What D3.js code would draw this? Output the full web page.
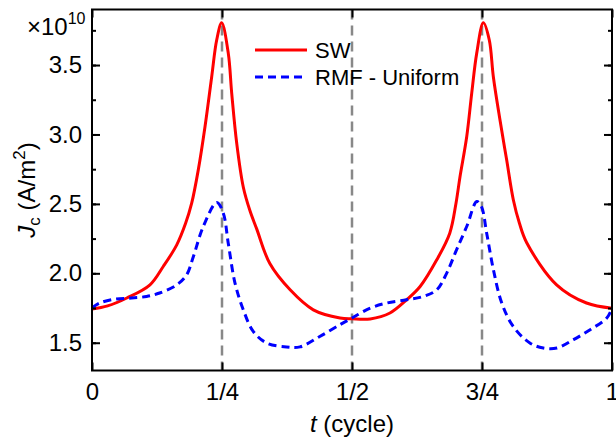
<!DOCTYPE html>
<html>
<head>
<meta charset="utf-8">
<script src="https://cdn.jsdelivr.net/npm/d3@7"></script>
<style>
  html, body { margin: 0; padding: 0; background: #fff; }
  svg { display: block; font-family: Arial, "Liberation Sans", sans-serif; }
</style>
</head>
<body>
<svg id="chart" width="616" height="445"></svg>
<script>
// Critical current density over one cycle (values in units of 1e10 A/m^2)
const swT = [0, 0.03, 0.067, 0.1115, 0.137, 0.163, 0.18, 0.1917, 0.2044, 0.2173, 0.2302, 0.2398, 0.2494,
             0.2621, 0.2687, 0.2783, 0.291, 0.3038, 0.3167, 0.342, 0.381, 0.4256, 0.477, 0.5,
             0.535, 0.573, 0.605, 0.631, 0.663, 0.688, 0.70, 0.7077, 0.7206, 0.7302, 0.7398, 0.7526,
             0.764, 0.7718, 0.7846, 0.7974, 0.8102, 0.822, 0.836, 0.8935, 0.951, 1.0];
const swJ = [1.742, 1.765, 1.822, 1.917, 2.049, 2.205, 2.36, 2.505, 2.745, 3.056, 3.416, 3.68, 3.804,
             3.584, 3.296, 2.937, 2.62, 2.45, 2.32, 2.07, 1.881, 1.737, 1.678, 1.672,
             1.671, 1.714, 1.809, 1.905, 2.097, 2.289, 2.505, 2.696, 2.984, 3.296, 3.584, 3.804,
             3.68, 3.416, 3.104, 2.817, 2.53, 2.36, 2.22, 1.917, 1.786, 1.749];

const rmfT = [0, 0.015, 0.044, 0.076, 0.105, 0.13, 0.163, 0.182, 0.195, 0.214, 0.24, 0.2525,
              0.262, 0.275, 0.291, 0.31, 0.336, 0.374, 0.4, 0.438, 0.477, 0.5, 0.535,
              0.567, 0.605, 0.637, 0.663, 0.682, 0.701, 0.7206, 0.74, 0.749, 0.759, 0.772,
              0.788, 0.81, 0.842, 0.868, 0.894, 0.926, 0.958, 0.99, 1.0];
const rmfJ = [1.752, 1.786, 1.814, 1.822, 1.833, 1.858, 1.917, 1.989, 2.121, 2.337, 2.51, 2.433,
              2.217, 1.93, 1.737, 1.582, 1.498, 1.47, 1.47, 1.545, 1.63, 1.678, 1.749,
              1.786, 1.809, 1.833, 1.881, 2.0, 2.169, 2.337, 2.517, 2.48, 2.289, 2.025,
              1.786, 1.617, 1.498, 1.462, 1.462, 1.522, 1.594, 1.678, 1.749];

const xTickVals = [0, 0.25, 0.5, 0.75, 1];
const xTickLabels = ["0", "1/4", "1/2", "3/4", "1"];
const yTickVals = [1.5, 2.0, 2.5, 3.0, 3.5];
const yMinorVals = [1.5, 1.75, 2.0, 2.25, 2.5, 2.75, 3.0, 3.25, 3.5, 3.75];
const guideVals = [0.25, 0.5, 0.75];

const seriesNames = ["SW", "RMF - Uniform"];
const seriesColors = ["#ff0000", "#0000ff"];

const svg = d3.select("#chart");
const plotLeft = 92, plotRight = 612, plotTop = 9.5, plotBottom = 370.5;

const x = d3.scaleLinear().domain([0, 1]).range([plotLeft, plotRight]);
const y = d3.scaleLinear().domain([1.3, 3.9]).range([plotBottom, plotTop]);

// vertical dashed guides at quarter cycles
svg.append("g").selectAll("line").data(guideVals).join("line")
  .attr("x1", d => x(d)).attr("x2", d => x(d))
  .attr("y1", plotTop).attr("y2", plotBottom)
  .attr("stroke", "#888").attr("stroke-width", 2.5)
  .attr("stroke-dasharray", "10,6");

const line = d3.line().x(d => x(d[0])).y(d => y(d[1])).curve(d3.curveCatmullRom.alpha(0.5));

svg.append("clipPath").attr("id", "plotclip")
  .append("rect").attr("x", plotLeft).attr("y", plotTop)
  .attr("width", plotRight - plotLeft).attr("height", plotBottom - plotTop);

const plot = svg.append("g").attr("clip-path", "url(#plotclip)");

plot.append("path")
  .datum(swT.map((t, i) => [t, swJ[i]]))
  .attr("d", line).attr("fill", "none")
  .attr("stroke", seriesColors[0]).attr("stroke-width", 3)
  .attr("stroke-linejoin", "round");

plot.append("path")
  .datum(rmfT.map((t, i) => [t, rmfJ[i]]))
  .attr("d", line).attr("fill", "none")
  .attr("stroke", seriesColors[1]).attr("stroke-width", 3)
  .attr("stroke-dasharray", "8,5");

// axes with inward ticks on all four sides
const tickFont = 24, labelFont = 24, legendFont = 22, smallFont = 16;
const axisStyle = g => {
  g.select(".domain").remove();
  g.selectAll("line").attr("stroke", "#000").attr("stroke-width", 2);
};

svg.append("g").attr("transform", `translate(0,${plotBottom})`)
  .call(d3.axisBottom(x).tickValues(xTickVals).tickSize(-8).tickPadding(12.5)
    .tickFormat((d, i) => xTickLabels[i]))
  .call(axisStyle)
  .call(g => g.selectAll("text").attr("font-size", tickFont).attr("fill", "#000")
    .attr("font-family", "Arial, 'Liberation Sans', sans-serif"));

svg.append("g").attr("transform", `translate(0,${plotTop})`)
  .call(d3.axisTop(x).tickValues(xTickVals).tickSize(-8).tickFormat(""))
  .call(axisStyle);

svg.append("g").attr("transform", `translate(${plotLeft},0)`)
  .call(d3.axisLeft(y).tickValues(yMinorVals).tickSize(-4).tickFormat(""))
  .call(axisStyle);
svg.append("g").attr("transform", `translate(${plotLeft},0)`)
  .call(d3.axisLeft(y).tickValues(yTickVals).tickSize(-8).tickPadding(10)
    .tickFormat(d3.format(".1f")))
  .call(axisStyle)
  .call(g => g.selectAll("text").attr("font-size", tickFont).attr("fill", "#000")
    .attr("font-family", "Arial, 'Liberation Sans', sans-serif"));

svg.append("g").attr("transform", `translate(${plotRight},0)`)
  .call(d3.axisRight(y).tickValues(yMinorVals).tickSize(-4).tickFormat(""))
  .call(axisStyle);
svg.append("g").attr("transform", `translate(${plotRight},0)`)
  .call(d3.axisRight(y).tickValues(yTickVals).tickSize(-8).tickFormat(""))
  .call(axisStyle);

// frame
svg.append("rect").attr("x", plotLeft).attr("y", plotTop)
  .attr("width", plotRight - plotLeft).attr("height", plotBottom - plotTop)
  .attr("fill", "none").attr("stroke", "#000").attr("stroke-width", 2);

// scale factor label
const sf = svg.append("text").attr("x", 27).attr("y", 35)
  .attr("font-size", tickFont).attr("fill", "#000");
sf.append("tspan").text("×10");
sf.append("tspan").attr("font-size", smallFont).attr("dy", -11).text("10");

// x-axis title
const xt = svg.append("text").attr("x", (plotLeft + plotRight) / 2).attr("y", 432)
  .attr("text-anchor", "middle").attr("font-size", labelFont).attr("fill", "#000");
xt.append("tspan").attr("font-style", "italic").text("t");
xt.append("tspan").text(" (cycle)");

// y-axis title
const yt = svg.append("text")
  .attr("transform", `translate(35,190) rotate(-90)`)
  .attr("text-anchor", "middle").attr("font-size", labelFont).attr("fill", "#000");
yt.append("tspan").attr("font-style", "italic").text("J");
yt.append("tspan").attr("font-size", smallFont + 1).attr("dy", 5).text("c");
yt.append("tspan").attr("dy", -5).text(" (A/m");
yt.append("tspan").attr("font-size", smallFont + 1).attr("dy", -10).text("2");
yt.append("tspan").attr("dy", 10).text(")");

// legend
const legend = svg.append("g");
const legY = [50, 77];
seriesNames.forEach((name, i) => {
  legend.append("line")
    .attr("x1", 255).attr("x2", 307).attr("y1", legY[i]).attr("y2", legY[i])
    .attr("stroke", seriesColors[i]).attr("stroke-width", 3)
    .attr("stroke-dasharray", i === 1 ? "8,5" : null);
  legend.append("text").attr("x", 315).attr("y", legY[i]).attr("dy", "0.35em")
    .attr("font-size", legendFont).attr("fill", "#000").text(name);
});
</script>
</body>
</html>
